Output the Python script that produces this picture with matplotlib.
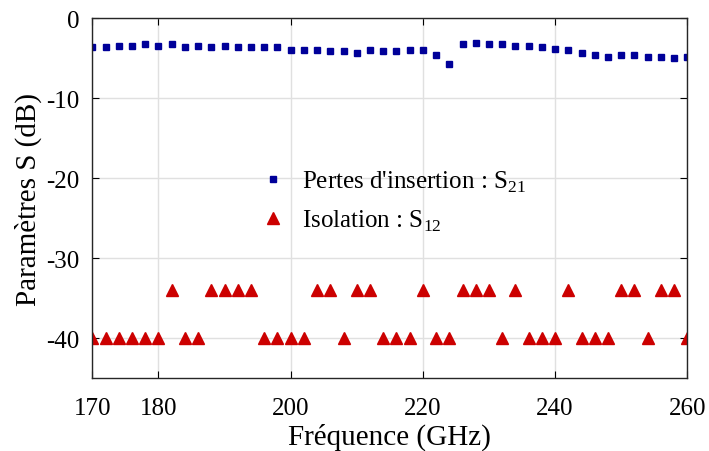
import numpy as np
import matplotlib.pyplot as plt

plt.rcParams['font.family'] = ['Liberation Serif', 'DejaVu Serif']
plt.rcParams['mathtext.fontset'] = 'custom'
plt.rcParams['mathtext.rm'] = 'Liberation Serif'
plt.rcParams['axes.unicode_minus'] = False

freq = np.arange(170, 262, 2)

s21 = [-3.63, -3.63, -3.50, -3.50, -3.25, -3.50, -3.25, -3.63, -3.50, -3.63,
       -3.50, -3.63, -3.63, -3.63, -3.63, -3.92, -3.92, -3.92, -4.05, -4.13,
       -4.38, -4.00, -4.13, -4.13, -4.00, -4.00, -4.63, -5.75, -3.25, -3.13,
       -3.25, -3.25, -3.50, -3.50, -3.63, -3.88, -4.00, -4.38, -4.63, -4.88,
       -4.63, -4.63, -4.88, -4.88, -5.00, -4.88]

# 170 .. 260 GHz
s12 = [-40, -40, -40, -40, -40, -40, -34, -40, -40, -34,
       -34, -34, -34, -40, -40, -40, -40, -34, -34, -40,
       -34, -34, -40, -40, -40, -34, -40, -40, -34, -34,
       -34, -40, -34, -40, -40, -40, -34, -40, -40, -40,
       -34, -34, -40, -34, -34, -40]

fig = plt.figure(figsize=(7.09, 4.52), dpi=100)
ax = fig.add_axes([0.1302, 0.1615, 0.8392, 0.7958])

ax.plot(freq, s21, 's', color='#000099', ms=5, label="Pertes d'insertion : S$_{21}$")
ax.plot(freq, s12, '^', color='#cc0000', ms=9, label='Isolation : S$_{12}$')

ax.set_xlim(170, 260)
ax.set_ylim(-45, 0)
ax.set_xticks([170, 180, 200, 220, 240, 260])
ax.set_yticks([-40, -30, -20, -10, 0])
ax.grid(True, color='0.88', lw=1)
ax.tick_params(direction='in', top=True, right=True, labelsize=18, length=5)
ax.tick_params(axis='x', pad=14)
ax.tick_params(axis='y', pad=9)
for s in ax.spines.values():
    s.set_linewidth(1)
    s.set_color('#262626')

ax.set_xlabel('Fréquence (GHz)', fontsize=21, labelpad=2)
ax.set_ylabel('Paramètres S (dB)', fontsize=21, labelpad=3)

ax.legend(loc='upper left', bbox_to_anchor=(0.235, 0.645), frameon=False, fontsize=18,
          handletextpad=0.4, labelspacing=0.58, handlelength=1.5)

plt.savefig('out.png', dpi=100)
